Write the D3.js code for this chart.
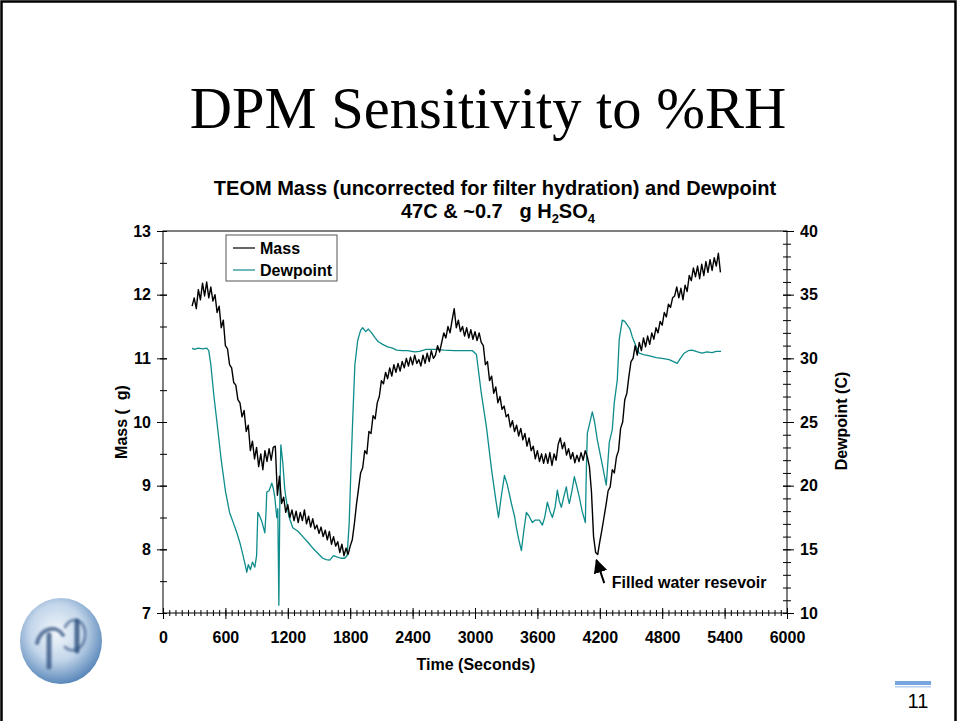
<!DOCTYPE html>
<html><head><meta charset="utf-8">
<script src="https://cdn.jsdelivr.net/npm/d3@7"></script>
<style>
body{margin:0;background:#fff}
svg{display:block}
text{font-family:"Liberation Sans",Arial,sans-serif;white-space:pre}
</style>
</head><body>
<svg id="c" width="957" height="721"></svg>
<script>
// ---------------- DATA ----------------
const massTime = [
280,300,320,340,360,380,400,420,440,460,
480,500,520,540,560,580,600,620,640,660,
680,700,720,740,760,780,800,820,840,860,
880,900,920,940,960,980,1000,1020,1040,1060,
1080,1100,1120,1140,1160,1180,1200,1220,1240,1260,
1280,1300,1320,1340,1360,1380,1400,1420,1440,1460,
1480,1500,1520,1540,1560,1580,1600,1620,1640,1660,
1680,1700,1720,1740,1760,1780,1800,1820,1840,1860,
1880,1900,1920,1940,1960,1980,2000,2020,2040,2060,
2080,2100,2120,2140,2160,2180,2200,2220,2240,2260,
2280,2300,2320,2340,2360,2380,2400,2420,2440,2460,
2480,2500,2520,2540,2560,2580,2600,2620,2640,2660,
2680,2700,2720,2740,2760,2780,2800,2820,2840,2860,
2880,2900,2920,2940,2960,2980,3000,3020,3040,3060,
3080,3100,3120,3140,3160,3180,3200,3220,3240,3260,
3280,3300,3320,3340,3360,3380,3400,3420,3440,3460,
3480,3500,3520,3540,3560,3580,3600,3620,3640,3660,
3680,3700,3720,3740,3760,3780,3800,3820,3840,3860,
3880,3900,3920,3940,3960,3980,4000,4020,4040,4060,
4080,4100,4120,4140,4160,4180,4200,4220,4240,4260,
4280,4300,4320,4340,4360,4380,4400,4420,4440,4460,
4480,4500,4520,4540,4560,4580,4600,4620,4640,4660,
4680,4700,4720,4740,4760,4780,4800,4820,4840,4860,
4880,4900,4920,4940,4960,4980,5000,5020,5040,5060,
5080,5100,5120,5140,5160,5180,5200,5220,5240,5260,
5280,5300,5320,5340,5360];
const massValue = [
11.82,11.95,11.78,12.08,11.92,12.18,11.98,12.2,11.95,12.12,
11.9,12.0,11.72,11.82,11.48,11.6,11.2,11.15,10.9,10.85,
10.62,10.58,10.35,10.3,10.08,10.18,9.85,9.95,9.55,9.7,
9.42,9.6,9.3,9.5,9.25,9.55,9.38,9.58,9.4,9.6,
9.62,8.85,9.15,8.72,8.82,8.58,8.7,8.5,8.62,8.45,
8.6,8.42,8.58,8.45,8.62,8.4,8.52,8.35,8.48,8.32,
8.38,8.25,8.35,8.2,8.3,8.15,8.28,8.08,8.2,8.05,
8.12,7.95,8.08,7.9,8.02,7.92,8.05,8.15,8.4,8.7,
8.95,9.2,9.28,9.55,9.5,9.85,9.82,10.1,10.05,10.3,
10.4,10.65,10.6,10.78,10.68,10.85,10.72,10.9,10.78,10.92,
10.8,10.95,10.85,11.0,10.88,11.02,10.9,11.05,10.92,10.98,
10.88,11.05,10.92,11.08,10.95,11.12,11.0,11.05,11.2,11.1,
11.25,11.4,11.32,11.5,11.4,11.6,11.78,11.48,11.6,11.42,
11.5,11.35,11.48,11.32,11.45,11.3,11.42,11.28,11.4,11.25,
11.2,10.9,10.95,10.65,10.72,10.45,10.55,10.3,10.4,10.2,
10.25,10.08,10.12,9.92,10.02,9.85,9.95,9.78,9.9,9.72,
9.82,9.62,9.75,9.55,9.62,9.42,9.55,9.38,9.5,9.35,
9.5,9.35,9.52,9.32,9.5,9.4,9.65,9.75,9.58,9.68,
9.48,9.58,9.42,9.52,9.36,9.48,9.38,9.52,9.4,9.55,
9.45,9.3,8.9,8.2,7.95,7.92,8.12,8.3,8.5,8.7,
8.92,8.98,9.25,9.2,9.45,9.55,9.9,10.0,10.35,10.45,
10.72,10.95,11.0,11.2,11.05,11.25,11.12,11.32,11.18,11.35,
11.22,11.4,11.3,11.48,11.4,11.58,11.52,11.72,11.65,11.85,
11.8,11.95,11.98,12.12,11.95,12.1,11.92,12.15,12.05,12.3,
12.22,12.42,12.28,12.45,12.25,12.48,12.3,12.52,12.35,12.55,
12.38,12.58,12.45,12.65,12.35];

const dewTime = [
280,300,340,380,420,440,460,490,520,560,600,640,680,710,740,770,790,806,820,840,
860,883,900,912,930,950,979,990,998,1020,1046,1060,1075,1094,1104,1114,1125,1133,1152,1170,
1181,1210,1248,1300,1344,1400,1440,1500,1536,1570,1603,1640,1670,1710,1747,1770,1790,1810,1824,1845,
1872,1900,1920,1950,1975,2006,2040,2070,2112,2160,2208,2246,2300,2352,2420,2467,2530,2630,2700,2800,
2900,2976,3014,3060,3110,3160,3200,3226,3250,3283,3310,3350,3380,3398,3420,3446,3470,3494,3520,3552,
3580,3619,3648,3670,3696,3720,3744,3770,3792,3810,3830,3850,3878,3895,3907,3930,3955,3980,4003,4030,
4061,4070,4080,4100,4128,4150,4176,4220,4262,4275,4291,4320,4339,4368,4387,4416,4440,4465,4490,4512,
4545,4579,4620,4680,4742,4800,4867,4920,4944,4975,5011,5050,5088,5140,5184,5230,5280,5320,5366];
const dewValue = [
30.8,30.7,30.8,30.75,30.8,30.6,29.5,27.0,24.9,22.0,19.6,17.9,17.0,16.3,15.5,14.5,13.8,13.2,13.8,13.4,
14.0,13.6,14.5,17.9,17.6,17.2,16.3,17.8,19.5,19.6,20.2,19.8,19.1,17.5,18.2,10.6,20.0,23.2,21.8,19.8,
19.1,17.6,16.7,16.4,16.0,15.5,15.1,14.6,14.3,14.2,14.15,14.5,14.4,14.3,14.3,14.5,17.0,22.0,25.15,29.5,
31.4,32.2,32.4,32.1,32.3,32.0,31.6,31.3,31.1,30.9,30.8,30.65,30.6,30.6,30.5,30.55,30.7,30.7,30.65,30.6,
30.6,30.6,30.3,27.3,24.6,21.2,18.9,17.5,19.0,20.8,20.1,18.6,17.6,16.7,15.8,14.9,16.5,17.9,17.6,17.1,
17.3,17.3,16.9,17.5,18.7,18.0,17.5,18.3,19.65,18.8,18.3,19.0,19.9,19.0,18.6,19.5,20.7,19.9,19.1,18.0,
17.1,21.0,24.1,24.8,25.8,25.0,23.6,21.8,20.05,21.5,23.4,24.4,26.5,28.3,31.5,33.0,32.9,32.6,32.3,31.7,
31.0,30.4,30.3,30.2,30.05,30.0,29.9,29.7,29.6,30.0,30.4,30.6,30.65,30.5,30.4,30.5,30.45,30.55,30.55];

const xTickValues = [0,600,1200,1800,2400,3000,3600,4200,4800,5400,6000];
const yLeftTickValues = [7,8,9,10,11,12,13];
const yRightTickValues = [10,15,20,25,30,35,40];
const seriesNames = ["Mass","Dewpoint"];

// ---------------- DRAW ----------------
const svg = d3.select("#c");
const W = 957, H = 721;
const pl = 163, pr = 787, pt = 231, pb = 613;
const TEAL = "#0e8c8c";

const x = d3.scaleLinear().domain([0, 6000]).range([pl, pr]);
const yL = d3.scaleLinear().domain([7, 13]).range([pb, pt]);
const yR = d3.scaleLinear().domain([10, 40]).range([pb, pt]);

svg.append("rect").attr("width", W).attr("height", H).attr("fill", "#fff");

// slide frame
svg.append("path").attr("d", `M1.5,${H} V1.5 H${W-1.5} V${H}`)
  .attr("fill", "none").attr("stroke", "#000").attr("stroke-width", 2.5);

// slide title
svg.append("text").attr("x", 488).attr("y", 128).attr("text-anchor", "middle")
  .style("font-family", '"Liberation Serif","Times New Roman",serif')
  .style("font-size", "58.5px").text("DPM Sensitivity to %RH");

// chart title
svg.append("text").attr("x", 495).attr("y", 195).attr("text-anchor", "middle")
  .style("font-size", "20px").style("font-weight", "bold")
  .text("TEOM Mass (uncorrected for filter hydration) and Dewpoint");
const t2 = svg.append("text").attr("x", 498).attr("y", 218).attr("text-anchor", "middle")
  .attr("xml:space", "preserve")
  .style("font-size", "20px").style("font-weight", "bold");
t2.append("tspan").text("47C & ~0.7   g H");
t2.append("tspan").attr("dy", 5).style("font-size", "13px").text("2");
t2.append("tspan").attr("dy", -5).text("SO");
t2.append("tspan").attr("dy", 5).style("font-size", "13px").text("4");

// plot frame
svg.append("rect").attr("x", pl).attr("y", pt).attr("width", pr - pl).attr("height", pb - pt)
  .attr("fill", "none").attr("stroke", "#000").attr("stroke-width", 1);

function styleAxis(g) {
  g.select(".domain").remove();
  g.selectAll(".tick line").attr("stroke", "#000");
  g.selectAll("text").style("font-size", "16px").style("font-weight", "bold")
    .style("font-family", '"Liberation Sans",Arial,sans-serif').attr("fill", "#000");
}

// x axis minor
const xMinor = d3.range(0, 6001, 60);
const gxm = svg.append("g").attr("transform", `translate(0,${pb})`)
  .call(d3.axisBottom(x).tickValues(xMinor).tickSize(3).tickFormat(""));
styleAxis(gxm); gxm.selectAll(".tick line").attr("y1", -3);
// x axis major
const gx = svg.append("g").attr("transform", `translate(0,${pb})`)
  .call(d3.axisBottom(x).tickValues(xTickValues).tickSize(6).tickFormat(d3.format("d")));
styleAxis(gx);
gx.selectAll(".tick line").attr("y1", -5);
gx.selectAll(".tick text").attr("y", 19);

// left axis
const yLMinor = d3.range(7, 13.01, 0.5);
const gylm = svg.append("g").attr("transform", `translate(${pl},0)`)
  .call(d3.axisLeft(yL).tickValues(yLMinor).tickSize(3).tickFormat(""));
styleAxis(gylm); gylm.selectAll(".tick line").attr("x1", 4);
const gyl = svg.append("g").attr("transform", `translate(${pl},0)`)
  .call(d3.axisLeft(yL).tickValues(yLeftTickValues).tickSize(6).tickFormat(d3.format("d")));
styleAxis(gyl);
gyl.selectAll(".tick line").attr("x1", 4);
gyl.selectAll(".tick text").attr("x", -12);

// right axis
const yRMinor = d3.range(10, 40.01, 1);
const gyrm = svg.append("g").attr("transform", `translate(${pr},0)`)
  .call(d3.axisRight(yR).tickValues(yRMinor).tickSize(4).tickFormat(""));
styleAxis(gyrm); gyrm.selectAll(".tick line").attr("x1", -4);
const gyr = svg.append("g").attr("transform", `translate(${pr},0)`)
  .call(d3.axisRight(yR).tickValues(yRightTickValues).tickSize(7).tickFormat(d3.format("d")));
styleAxis(gyr);
gyr.selectAll(".tick line").attr("x1", -4);
gyr.selectAll(".tick text").attr("x", 13);

// axis titles
svg.append("text").attr("x", 476).attr("y", 670).attr("text-anchor", "middle")
  .style("font-size", "16px").style("font-weight", "bold").text("Time (Seconds)");
svg.append("text").attr("transform", "translate(127,422) rotate(-90)").attr("text-anchor", "middle")
  .attr("xml:space", "preserve")
  .style("font-size", "16px").style("font-weight", "bold").text("Mass (  g)");
svg.append("text").attr("transform", "translate(847,421) rotate(-90)").attr("text-anchor", "middle")
  .style("font-size", "16px").style("font-weight", "bold").text("Dewpoint (C)");

// series
const dewData = dewTime.map((t, i) => [t, dewValue[i]]);
const massData = massTime.map((t, i) => [t, massValue[i]]);
svg.append("path").datum(dewData)
  .attr("d", d3.line().x(d => x(d[0])).y(d => yR(d[1])))
  .attr("fill", "none").attr("stroke", TEAL).attr("stroke-width", 1.3).attr("stroke-linejoin", "round");
svg.append("path").datum(massData)
  .attr("d", d3.line().x(d => x(d[0])).y(d => yL(d[1])))
  .attr("fill", "none").attr("stroke", "#000").attr("stroke-width", 1.4).attr("stroke-linejoin", "round");

// legend
const lg = svg.append("g");
lg.append("rect").attr("x", 226).attr("y", 235).attr("width", 111).attr("height", 46)
  .attr("fill", "#fff").attr("stroke", "#555").attr("stroke-width", 1);
[["#000", 0], [TEAL, 1]].forEach(([c, i]) => {
  const yy = 248 + i * 22;
  lg.append("line").attr("x1", 233).attr("x2", 255).attr("y1", yy).attr("y2", yy)
    .attr("stroke", c).attr("stroke-width", 1.2);
  lg.append("text").attr("x", 260).attr("y", yy + 6).style("font-size", "16px")
    .style("font-weight", "bold").text(seriesNames[i]);
});

// annotation
const defs = svg.append("defs");
defs.append("marker").attr("id", "ah").attr("viewBox", "0 0 10 10").attr("refX", 9).attr("refY", 5)
  .attr("markerWidth", 7).attr("markerHeight", 7).attr("orient", "auto")
  .append("path").attr("d", "M0,0 L10,5 L0,10 z").attr("fill", "#000");
svg.append("line").attr("x1", x(4243)).attr("y1", yL(7.47)).attr("x2", x(4168)).attr("y2", yL(7.83))
  .attr("stroke", "#000").attr("stroke-width", 2).attr("marker-end", "url(#ah)");
svg.append("text").attr("x", x(4315)).attr("y", yL(7.39)).style("font-size", "16px")
  .style("font-weight", "bold").text("Filled water resevoir");

// page number
svg.append("rect").attr("x", 895).attr("y", 681).attr("width", 36).attr("height", 4).attr("fill", "#78a5e0");
svg.append("rect").attr("x", 895).attr("y", 686).attr("width", 36).attr("height", 1.5).attr("fill", "#b3cdef");
svg.append("text").attr("x", 918).attr("y", 708).attr("text-anchor", "middle")
  .style("font-size", "20px").text("11");

// logo
const rg = defs.append("radialGradient").attr("id", "lg").attr("cx", "45%").attr("cy", "40%").attr("r", "60%");
rg.append("stop").attr("offset", "0%").attr("stop-color", "#f2f6fb");
rg.append("stop").attr("offset", "55%").attr("stop-color", "#c3d6ea");
rg.append("stop").attr("offset", "100%").attr("stop-color", "#5a88ba");
defs.append("filter").attr("id", "bl").append("feGaussianBlur").attr("stdDeviation", 1.2);
const cx = 61, cy = 641;
const logo = svg.append("g");
logo.append("ellipse").attr("cx", cx).attr("cy", cy).attr("rx", 41).attr("ry", 43).attr("fill", "url(#lg)");
const glyph = logo.append("g").attr("filter", "url(#bl)").attr("fill", "none")
  .attr("stroke", "#2d4f7e").attr("stroke-linecap", "round");
glyph.append("path").attr("d", `M${cx-24},${cy+2} C${cx-20},${cy-14} ${cx-4},${cy-16} ${cx+2},${cy-6}`)
  .attr("stroke-width", 4).attr("opacity", 0.7);
glyph.append("path").attr("d", `M${cx-12},${cy-6} L${cx-12},${cy+26}`).attr("stroke-width", 5).attr("opacity", 0.75);
glyph.append("path").attr("d", `M${cx+16},${cy-20} L${cx+16},${cy+10}`).attr("stroke-width", 5).attr("opacity", 0.8);
glyph.append("path").attr("d", `M${cx+4},${cy-14} C${cx+10},${cy-26} ${cx+26},${cy-22} ${cx+24},${cy-4} C${cx+22},${cy+10} ${cx+10},${cy+12} ${cx+4},${cy+6}`)
  .attr("stroke-width", 3).attr("opacity", 0.55);
logo.append("path").attr("d", `M${cx},${cy-8} L${cx},${cy+36}`).attr("stroke", "#fff")
  .attr("stroke-width", 7).attr("opacity", 0.7).attr("filter", "url(#bl)");
</script>
</body></html>
